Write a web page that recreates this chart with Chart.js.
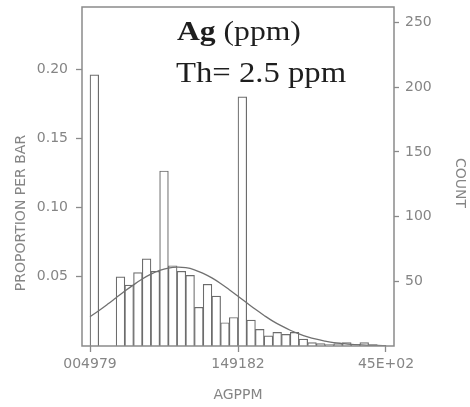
<!DOCTYPE html>
<html>
<head>
<meta charset="utf-8">
<script src="https://cdn.jsdelivr.net/npm/chart.js@4"></script>
<style>
  html, body { margin: 0; padding: 0; background: #ffffff; }
  canvas { display: block; }
</style>
</head>
<body>
<canvas id="c" width="470" height="407"></canvas>
<script>
// ---- Data ----
// Bin centres on the (log) AGPPM axis
const binCenters = [-2.9, -2.7, -2.5, -2.3, -2.1, -1.9, -1.7, -1.5, -1.3, -1.1,
                    -0.9, -0.7, -0.5, -0.3, -0.1, 0.1, 0.3, 0.5, 0.7, 0.9,
                    1.1, 1.3, 1.5, 1.7, 1.9, 2.1, 2.3, 2.5, 2.7, 2.9,
                    3.1, 3.3, 3.5, 3.7];
// Proportion per bar
const proportions = [0.196, null, null, 0.050, 0.044, 0.053, 0.063, 0.054, 0.1265, 0.058,
                     0.054, 0.051, 0.028, 0.0446, 0.036, 0.0168, 0.0206, 0.180, 0.0187, 0.012,
                     0.0074, 0.0098, 0.0084, 0.0098, 0.005, 0.0024, 0.0017, 0.001, 0.0017, 0.0024,
                     0.0012, 0.0024, 0.001, 0.0005];
// Fitted curve, sampled at bin edges
const curveX = [-3.0, -2.8, -2.6, -2.4, -2.2, -2.0, -1.8, -1.6, -1.4, -1.2,
                -1.0, -0.8, -0.6, -0.4, -0.2, 0.0, 0.2, 0.4, 0.6, 0.8,
                1.0, 1.2, 1.4, 1.6, 1.8, 2.0, 2.2, 2.4, 2.6, 2.8,
                3.0, 3.2, 3.4, 3.6, 3.8];
const curveY = [0.0212, 0.0255, 0.0301, 0.0349, 0.0397, 0.0442, 0.0484, 0.0519, 0.0546, 0.0563,
                0.0570, 0.0566, 0.0551, 0.0525, 0.0492, 0.0452, 0.0407, 0.0360, 0.0312, 0.0265,
                0.0221, 0.0180, 0.0145, 0.0114, 0.0088, 0.0066, 0.0049, 0.0036, 0.0025, 0.0018,
                0.0012, 0.0008, 0.0005, 0.0004, 0.0002];
// Tick labels
const xTickValues = [-3.0, 0.4, 3.8];
const xTickLabels = ['004979', '149182', '45E+02'];
const leftTicks = [0.05, 0.10, 0.15, 0.20];
const leftTickLabels = ['0.05', '0.10', '0.15', '0.20'];
const rightTicks = [50, 100, 150, 200, 250];
const rightTickLabels = ['50', '100', '150', '200', '250'];
// Text
const xTitle = 'AGPPM';
const leftTitle = 'PROPORTION PER BAR';
const rightTitle = 'COUNT';
const noteBold = 'Ag';
const noteRest = ' (ppm)';
const noteLine2 = 'Th= 2.5 ppm';

// ---- Styles ----
const GREY_TEXT = '#858585';
const GREY_LINE = '#8a8a8a';
const BAR_LINE = '#6c6c6c';
const FONT = 'DejaVu Sans';

const decor = {
  id: 'decor',
  afterDraw(chart) {
    const ctx = chart.ctx;
    const a = chart.chartArea;
    ctx.save();
    // frame
    ctx.strokeStyle = GREY_LINE;
    ctx.lineWidth = 1.5;
    ctx.strokeRect(a.left, a.top, a.right - a.left, a.bottom - a.top);

    // axis titles
    ctx.fillStyle = GREY_TEXT;
    ctx.font = '14px "' + FONT + '"';
    ctx.textAlign = 'center';
    ctx.textBaseline = 'middle';
    ctx.fillText(xTitle, (a.left + a.right) / 2, 395);

    ctx.save();
    ctx.translate(21, 213);
    ctx.rotate(-Math.PI / 2);
    ctx.fillText(leftTitle, 0, 0);
    ctx.restore();

    ctx.save();
    ctx.translate(460, 183);
    ctx.rotate(Math.PI / 2);
    ctx.fillText(rightTitle, 0, 0);
    ctx.restore();

    // annotation
    ctx.fillStyle = '#1e1e1e';
    ctx.textAlign = 'left';
    ctx.textBaseline = 'alphabetic';
    ctx.save();
    ctx.translate(177, 40);
    ctx.scale(1.13, 1);
    ctx.font = 'bold 28px "Liberation Serif"';
    ctx.fillText(noteBold, 0, 0);
    const w = ctx.measureText(noteBold).width;
    ctx.font = '28px "Liberation Serif"';
    ctx.fillText(noteRest, w, 0);
    ctx.restore();

    ctx.save();
    ctx.translate(176, 82);
    ctx.scale(1.09, 1);
    ctx.font = '30px "Liberation Serif"';
    ctx.fillText(noteLine2, 0, 0);
    ctx.restore();

    ctx.restore();
  }
};

Chart.defaults.font.family = FONT;
Chart.defaults.font.size = 14;
Chart.defaults.color = GREY_TEXT;

new Chart(document.getElementById('c'), {
  type: 'bar',
  data: {
    datasets: [
      {
        type: 'line',
        data: curveX.map((x, i) => ({ x: x, y: curveY[i] })),
        borderColor: '#707070',
        borderWidth: 1.3,
        pointRadius: 0,
        tension: 0.4,
        fill: false,
        order: 0,
        xAxisID: 'x',
        yAxisID: 'y'
      },
      {
        type: 'bar',
        data: binCenters.map((x, i) => ({ x: x, y: proportions[i] })),
        backgroundColor: '#ffffff',
        borderColor: BAR_LINE,
        borderWidth: 1.2,
        barPercentage: 1,
        categoryPercentage: 1,
        order: 1,
        xAxisID: 'x',
        yAxisID: 'y'
      }
    ]
  },
  options: {
    responsive: false,
    animation: false,
    devicePixelRatio: 1,
    layout: { padding: { top: 7, left: 0, right: 0, bottom: 0 } },
    plugins: {
      legend: { display: false },
      tooltip: { enabled: false },
      title: { display: false }
    },
    scales: {
      x: {
        type: 'linear',
        position: 'bottom',
        min: -3.184,
        max: 3.984,
        offset: false,
        border: { display: false },
        grid: { drawOnChartArea: false, drawTicks: true, tickLength: 6, color: GREY_LINE, tickWidth: 1.3, offset: false },
        afterBuildTicks: (s) => { s.ticks = xTickValues.map(v => ({ value: v })); },
        afterFit: (s) => { s.height = 61; s.paddingLeft = 0; s.paddingRight = 0; },
        ticks: {
          autoSkip: false,
          maxRotation: 0,
          minRotation: 0,
          padding: 4,
          color: GREY_TEXT,
          callback: (v, i) => xTickLabels[i]
        }
      },
      y: {
        type: 'linear',
        position: 'left',
        min: 0,
        max: 0.245,
        border: { display: false },
        grid: { drawOnChartArea: false, drawTicks: true, tickLength: 6, color: GREY_LINE, tickWidth: 1.3 },
        afterBuildTicks: (s) => { s.ticks = leftTicks.map(v => ({ value: v })); },
        afterFit: (s) => { s.width = 82; s.paddingTop = 0; s.paddingBottom = 0; },
        ticks: {
          padding: 8,
          color: GREY_TEXT,
          callback: (v, i) => leftTickLabels[i]
        }
      },
      y2: {
        type: 'linear',
        position: 'right',
        min: 0,
        max: 262,
        border: { display: false },
        grid: { drawOnChartArea: false, drawTicks: true, tickLength: 5, color: GREY_LINE, tickWidth: 1.3 },
        afterBuildTicks: (s) => { s.ticks = rightTicks.map(v => ({ value: v })); },
        afterFit: (s) => { s.width = 76; s.paddingTop = 0; s.paddingBottom = 0; },
        ticks: {
          padding: 6,
          color: GREY_TEXT,
          callback: (v, i) => rightTickLabels[i]
        }
      }
    }
  },
  plugins: [decor]
});
</script>
</body>
</html>
